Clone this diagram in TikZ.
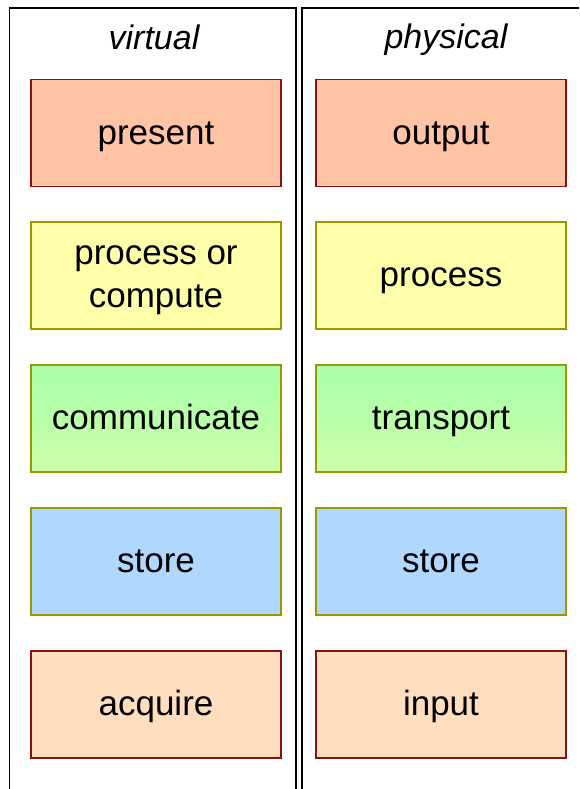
\documentclass[tikz,border=0pt]{standalone}
\usepackage{fontspec}
\setmainfont{Liberation Sans}
\definecolor{redfill}{HTML}{FFC4A6}
\definecolor{redline}{HTML}{8B1010}
\definecolor{yelfill}{HTML}{FFFFAA}
\definecolor{oliveline}{HTML}{999900}
\definecolor{greentop}{HTML}{A8FFA8}
\definecolor{greenbot}{HTML}{CCFFAA}
\definecolor{bluefill}{HTML}{B0D8FF}
\definecolor{peachfill}{HTML}{FFDEC0}
\tikzset{
  x=1pt, y=1pt,
  box/.style={rectangle, minimum width=250pt, minimum height=107pt, inner sep=0pt, line width=1.3pt, text height=25.5pt, text depth=2.5pt, font=\fontsize{35}{43}\selectfont},
  redbox/.style={box, draw=redline, fill=redfill},
  yelbox/.style={box, draw=oliveline, fill=yelfill},
  grnbox/.style={box, draw=oliveline, top color=greentop, bottom color=greenbot},
  blubox/.style={box, draw=oliveline, fill=bluefill},
  peachbox/.style={box, draw=redline, fill=peachfill},
  line/.style={anchor=base, inner sep=0pt, font=\fontsize{35}{43}\selectfont},
  frame/.style={draw=black, line width=1.4pt},
  title/.style={anchor=base, font=\fontsize{34}{40}\selectfont\itshape, inner sep=0pt}
}
\begin{document}
\begin{tikzpicture}
\useasboundingbox (0,0) rectangle (579,789);
\draw[frame] (9.5,0) -- (9.5,781) -- (296,781) -- (296,0);
\draw[frame] (302,0) -- (302,781) -- (579,781);
\node[title] (tv) at (154,739) {virtual};
\node[title] (tp) at (446,740) {physical};
\node[redbox] (present) at (156,656) {present};
\node[yelbox] (compute) at (156,513.5) {};
\node[line] (compute1) at (156,524) {process or};
\node[line] (compute2) at (156,481) {compute};
\node[grnbox] (comm) at (156,370.5) {communicate};
\node[blubox] (vstore) at (156,227.5) {store};
\node[peachbox] (acquire) at (156,84.5) {acquire};
\node[redbox] (output) at (441,656) {output};
\node[yelbox] (process) at (441,513.5) {process};
\node[grnbox] (transport) at (441,370.5) {transport};
\node[blubox] (pstore) at (441,227.5) {store};
\node[peachbox] (input) at (441,84.5) {input};
\end{tikzpicture}
\end{document}
